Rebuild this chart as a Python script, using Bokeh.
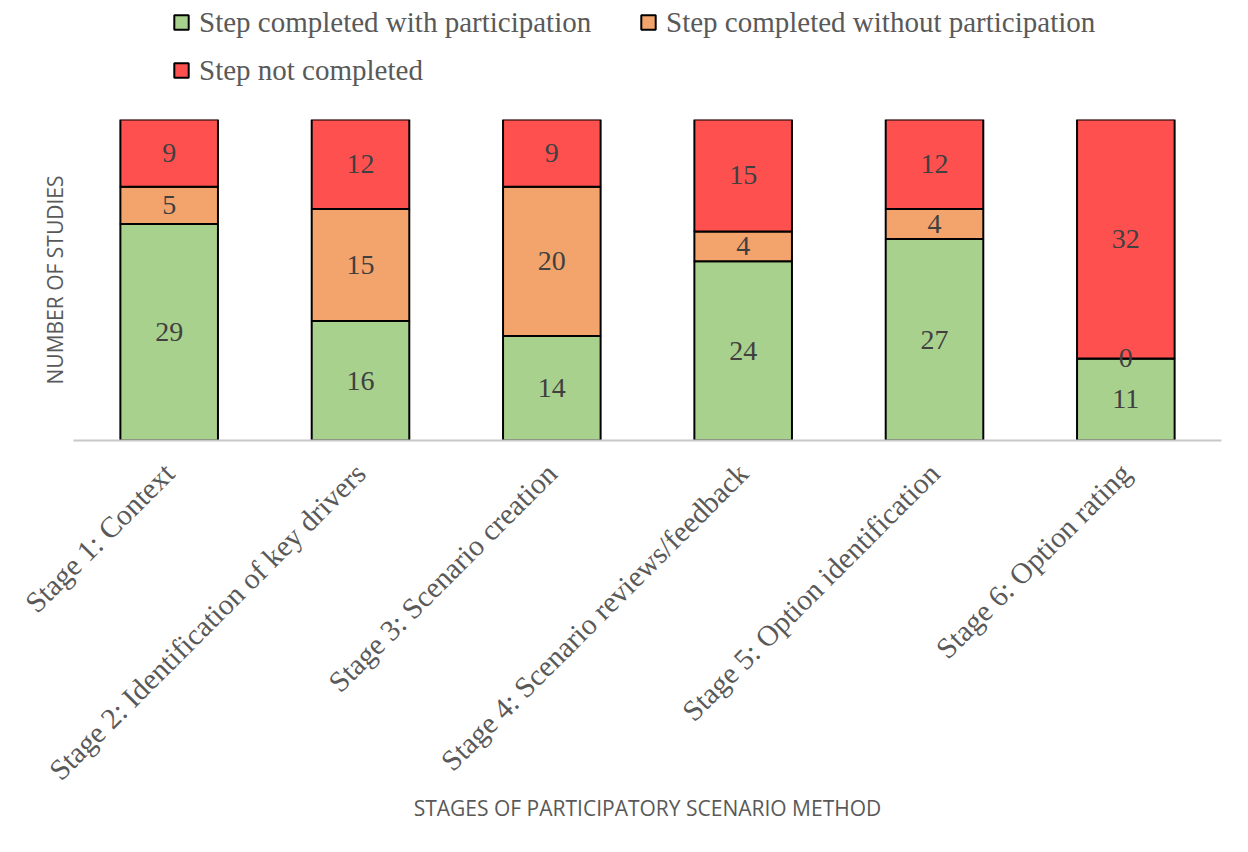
import math
from bokeh.plotting import figure
from bokeh.layouts import column
from bokeh.models import (ColumnDataSource, FactorRange, Range1d, Legend, LegendItem,
                          LabelSet, FixedTicker)
from bokeh.core.properties import value
from bokeh.embed import file_html
from bokeh.resources import INLINE

stages = [
    "Stage 1: Context",
    "Stage 2: Identification of key drivers",
    "Stage 3: Scenario creation",
    "Stage 4: Scenario reviews/feedback",
    "Stage 5: Option identification",
    "Stage 6: Option rating",
]
with_participation = [29, 16, 14, 24, 27, 11]
without_participation = [5, 15, 20, 4, 4, 0]
not_completed = [9, 12, 9, 15, 12, 32]

series_keys = ["with_p", "without_p", "not_c"]
series_labels = ["Step completed with participation",
                 "Step completed without participation",
                 "Step not completed"]
colors = ["#A9D18E", "#F2A46C", "#FF5050"]

SERIF = "Liberation Serif"
SANS = "Open Sans"
GREY = "#595959"

data = dict(stage=stages, with_p=with_participation,
            without_p=without_participation, not_c=not_completed)
source = ColumnDataSource(data)

# ---- legend strip (separate figure on top) ----
lg = figure(width=1240, height=112, x_range=Range1d(0, 1), y_range=Range1d(0, 1),
            output_backend="svg", toolbar_location=None,
            x_axis_type=None, y_axis_type=None,
            min_border_left=0, min_border_right=0, min_border_top=0, min_border_bottom=0)
lg.outline_line_color = None
lg.xgrid.visible = False
lg.ygrid.visible = False
proxies = []
for c in colors:
    # legend-only carrier (NaN point: nothing is drawn on the canvas)
    r = lg.scatter(x=[float("nan")], y=[float("nan")], marker="square",
                   fill_color=c, line_color="black", line_width=2)
    proxies.append(r)
legend = Legend(items=[LegendItem(label=l, renderers=[r]) for l, r in zip(series_labels, proxies)],
                ncols=2, orientation="horizontal",
                location=(90, 24), padding=0, margin=0, spacing=12,
                glyph_width=36, glyph_height=36, label_standoff=-4, label_width=419,
                label_text_font=SERIF, label_text_font_size="29px",
                label_text_color=GREY, border_line_color=None,
                background_fill_alpha=0)
lg.add_layout(legend, "center")

# ---- main chart ----
p = figure(width=1240, height=732, x_range=FactorRange(*stages, range_padding=0),
           y_range=Range1d(0, 43), output_backend="svg", toolbar_location=None,
           min_border_left=73, min_border_right=19, min_border_top=7,
           min_border_bottom=404)
p.outline_line_color = None
p.xgrid.visible = False
p.ygrid.visible = False

p.vbar_stack(series_keys, x="stage", width=0.51, source=source,
             fill_color=colors, line_color="black", line_width=2)

# value labels centered in each segment
bottoms = [0] * len(stages)
for key, vals in zip(series_keys, [with_participation, without_participation, not_completed]):
    mids = [b + v / 2 for b, v in zip(bottoms, vals)]
    lsrc = ColumnDataSource(dict(x=stages, y=mids, t=[str(v) for v in vals]))
    p.add_layout(LabelSet(x="x", y="y", text="t", source=lsrc,
                          text_align="center", text_baseline="middle",
                          text_font=value(SERIF), text_font_size="28px",
                          text_color="#404040"))
    bottoms = [b + v for b, v in zip(bottoms, vals)]

# x axis
xa = p.xaxis[0]
xa.major_label_orientation = math.pi / 4
xa.major_label_text_font = SERIF
xa.major_label_text_font_size = "29.5px"
xa.major_label_text_color = GREY
xa.major_label_standoff = 22
xa.major_tick_line_color = None
xa.minor_tick_line_color = None
xa.axis_line_color = "#C8C8C8"
xa.axis_line_width = 2
xa.axis_label = "STAGES OF PARTICIPATORY SCENARIO METHOD"
xa.axis_label_text_font = SANS
xa.axis_label_text_font_size = "21px"
xa.axis_label_text_font_style = "normal"
xa.axis_label_text_color = GREY
xa.axis_label_standoff = -7

# y axis
ya = p.yaxis[0]
ya.ticker = FixedTicker(ticks=[])
ya.major_tick_out = 0
ya.major_tick_in = 0
ya.minor_tick_out = 0
ya.minor_tick_in = 0
ya.major_label_standoff = 0
ya.axis_line_color = None
ya.axis_label = "NUMBER OF STUDIES"
ya.axis_label_text_font = SANS
ya.axis_label_text_font_size = "21px"
ya.axis_label_text_font_style = "normal"
ya.axis_label_text_color = GREY
ya.axis_label_standoff = 5

layout = column(lg, p, spacing=0)
open("out.html", "w").write(file_html(layout, INLINE))
